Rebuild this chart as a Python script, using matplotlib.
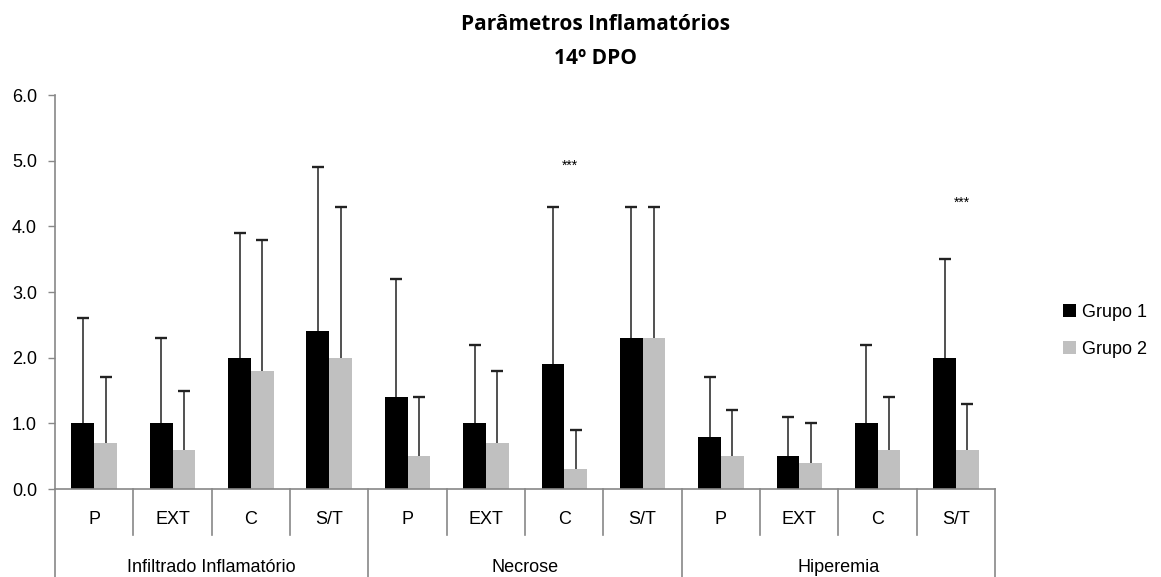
import numpy as np
import matplotlib.pyplot as plt

groups = ['Infiltrado Inflamatório', 'Necrose', 'Hiperemia']
subcats = ['P', 'EXT', 'C', 'S/T']

grupo1 = [1.0, 1.0, 2.0, 2.4, 1.4, 1.0, 1.9, 2.3, 0.8, 0.5, 1.0, 2.0]
grupo1_top = [2.6, 2.3, 3.9, 4.9, 3.2, 2.2, 4.3, 4.3, 1.7, 1.1, 2.2, 3.5]
grupo2 = [0.7, 0.6, 1.8, 2.0, 0.5, 0.7, 0.3, 2.3, 0.5, 0.4, 0.6, 0.6]
grupo2_top = [1.7, 1.5, 3.8, 4.3, 1.4, 1.8, 0.9, 4.3, 1.2, 1.0, 1.4, 1.3]

# significance marks: (category index, height)
signif = [(6, 4.93), (11, 4.36)]


def main():
    plt.rcParams['font.family'] = ['Liberation Sans', 'DejaVu Sans']
    fig = plt.figure(figsize=(11.61, 5.77), dpi=100)
    ax = fig.add_axes([0.0474, 0.1525, 0.8097, 0.6825])

    n = len(grupo1)
    x = np.arange(n)
    w = 0.29
    g1 = np.array(grupo1)
    g2 = np.array(grupo2)

    ax.bar(x - w / 2, g1, w, color='black', label='Grupo 1')
    ax.bar(x + w / 2, g2, w, color='#c0c0c0', label='Grupo 2')
    # upper-only error bars
    for xs, lo, hi in [(x - w / 2, g1, grupo1_top), (x + w / 2, g2, grupo2_top)]:
        ax.vlines(xs, lo, hi, color='#222222', lw=1.1)
        ax.plot(xs, hi, ls='none', marker='_', ms=8, mew=1.7, color='#222222')

    for i, h in signif:
        ax.text(x[i] + 0.07, h, '***', ha='center', va='center', fontsize=10)

    ax.set_xlim(-0.5, n - 0.5)
    ax.set_ylim(0, 6)
    ax.set_yticks(np.arange(0, 6.1, 1.0))
    ax.set_yticklabels(['%.1f' % v for v in np.arange(0, 6.1, 1.0)], fontsize=13)
    ax.tick_params(axis='y', color='#888888', length=5, width=1, pad=8)
    ax.set_xticks([])
    for s in ['top', 'right']:
        ax.spines[s].set_visible(False)
    for s in ['left', 'bottom']:
        ax.spines[s].set_color('#888888')
        ax.spines[s].set_linewidth(1.2)

    # category axis with separators
    for i in range(n + 1):
        bottom = -1.34 if i % 4 == 0 else -0.70
        ax.plot([i - 0.5, i - 0.5], [0, bottom], color='#888888', lw=1.2, clip_on=False)
    for i in range(n):
        ax.text(x[i], -0.47, subcats[i % 4], ha='center', va='center', fontsize=13)
    for j, g in enumerate(groups):
        ax.text(4 * j + 1.5, -1.2, g, ha='center', va='center', fontsize=13)

    fig.text(0.513, 0.957, 'Parâmetros Inflamatórios', ha='center', va='center',
             fontsize=15, fontweight='bold', family=['Open Sans', 'DejaVu Sans'])
    fig.text(0.513, 0.899, '14º DPO', ha='center', va='center',
             fontsize=15, fontweight='bold', family=['Open Sans', 'DejaVu Sans'])

    ax.legend(loc='center left', bbox_to_anchor=(1.072, 0.402), frameon=False,
              fontsize=13, handlelength=0.75, handleheight=0.75, handletextpad=0.3,
              labelspacing=1.1, borderpad=0, borderaxespad=0)

    fig.savefig('out.png', dpi=100)


if __name__ == "__main__":
    main()
